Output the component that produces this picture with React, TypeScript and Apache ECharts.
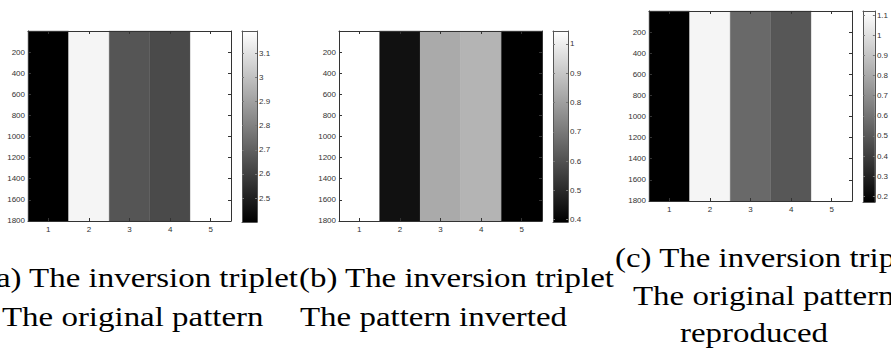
import React, { useEffect, useRef } from 'react';
import * as echarts from 'echarts';

// ---- data ----
const COLUMNS = [1, 2, 3, 4, 5];
const ROW_EXTENT = [0.5, 1800.5];
const ROW_TICKS = [200, 400, 600, 800, 1000, 1200, 1400, 1600, 1800];

const VALUES_A = [2.401, 3.16, 2.665, 2.631, 3.192];
const VALUES_B = [1.044, 0.436, 0.827, 0.852, 0.392];
const VALUES_C = [0.172, 1.083, 0.561, 0.495, 1.121];

const RANGE_A = [2.401, 3.192];
const RANGE_B = [0.392, 1.044];
const RANGE_C = [0.172, 1.121];

const CBAR_TICKS_A = [2.5, 2.6, 2.7, 2.8, 2.9, 3, 3.1];
const CBAR_TICKS_B = [0.4, 0.5, 0.6, 0.7, 0.8, 0.9, 1];
const CBAR_TICKS_C = [0.2, 0.3, 0.4, 0.5, 0.6, 0.7, 0.8, 0.9, 1, 1.1];

const CAPTION_A = ['(a) The inversion triplet', 'The original pattern'];
const CAPTION_B = ['(b) The inversion triplet', 'The pattern inverted'];
const CAPTION_C = ['(c) The inversion triplet', 'The original pattern', 'reproduced'];

// ---- layout / style ----
const PANELS = [
  { values: VALUES_A, range: RANGE_A, cticks: CBAR_TICKS_A, grid: { left: 28, top: 31, width: 203, height: 190 }, cbar: { left: 242, top: 31, width: 15, height: 191 } },
  { values: VALUES_B, range: RANGE_B, cticks: CBAR_TICKS_B, grid: { left: 339, top: 31, width: 203, height: 190 }, cbar: { left: 553, top: 31, width: 15, height: 191 } },
  { values: VALUES_C, range: RANGE_C, cticks: CBAR_TICKS_C, grid: { left: 649, top: 11, width: 203, height: 190 }, cbar: { left: 863, top: 11, width: 15, height: 191 } },
];

const AX = '#333';
const LABEL = { fontSize: 8, color: '#333', fontFamily: '"Liberation Sans", Arial, sans-serif' };
const fmt = (v: number) => String(+(+v).toFixed(3));

function gray(v: number, range: number[]) {
  const t = Math.max(0, Math.min(1, (v - range[0]) / (range[1] - range[0])));
  const g = Math.round(t * 255);
  return `rgb(${g},${g},${g})`;
}

function buildOption() {
  const grid: any[] = [];
  const xAxis: any[] = [];
  const yAxis: any[] = [];
  const series: any[] = [];

  PANELS.forEach((p, i) => {
    const gm = 2 * i;
    const gc = 2 * i + 1;
    grid.push({ ...p.grid, containLabel: false });
    grid.push({ ...p.cbar, containLabel: false });

    const line = { show: true, onZero: false, lineStyle: { color: AX, width: 1 } };
    xAxis.push({
      type: 'value', gridIndex: gm, position: 'bottom', min: 0.5, max: 5.5, z: 5,
      axisLine: line,
      axisTick: { show: true, inside: true, length: 3, customValues: COLUMNS, lineStyle: { color: AX } },
      axisLabel: { show: true, customValues: COLUMNS, margin: 4, ...LABEL, formatter: fmt },
      splitLine: { show: false },
    });
    xAxis.push({
      type: 'value', gridIndex: gm, position: 'top', min: 0.5, max: 5.5, z: 5,
      axisLine: line,
      axisTick: { show: true, inside: true, length: 3, customValues: COLUMNS, lineStyle: { color: AX } },
      axisLabel: { show: false },
      splitLine: { show: false },
    });
    xAxis.push({
      type: 'value', gridIndex: gc, position: 'bottom', min: 0, max: 1, z: 5,
      axisLine: { show: true, onZero: false, lineStyle: { color: '#555' } },
      axisTick: { show: false }, axisLabel: { show: false }, splitLine: { show: false },
    });
    xAxis.push({
      type: 'value', gridIndex: gc, position: 'top', min: 0, max: 1, z: 5,
      axisLine: { show: true, onZero: false, lineStyle: { color: '#555' } },
      axisTick: { show: false }, axisLabel: { show: false }, splitLine: { show: false },
    });

    yAxis.push({
      type: 'value', gridIndex: gm, position: 'left', inverse: true, min: ROW_EXTENT[0], max: ROW_EXTENT[1], z: 5,
      axisLine: line,
      axisTick: { show: true, inside: true, length: 3, customValues: ROW_TICKS, lineStyle: { color: AX } },
      axisLabel: { show: true, customValues: ROW_TICKS, margin: 3, ...LABEL, formatter: fmt },
      splitLine: { show: false },
    });
    yAxis.push({
      type: 'value', gridIndex: gm, position: 'right', inverse: true, min: ROW_EXTENT[0], max: ROW_EXTENT[1], z: 5,
      axisLine: line,
      axisTick: { show: true, inside: true, length: 3, customValues: ROW_TICKS, lineStyle: { color: AX } },
      axisLabel: { show: false },
      splitLine: { show: false },
    });
    yAxis.push({
      type: 'value', gridIndex: gc, position: 'left', min: p.range[0], max: p.range[1], z: 5,
      axisLine: { show: true, onZero: false, lineStyle: { color: '#555' } },
      axisTick: { show: true, inside: true, length: 2, customValues: p.cticks, lineStyle: { color: '#777' } },
      axisLabel: { show: false },
      splitLine: { show: false },
    });
    yAxis.push({
      type: 'value', gridIndex: gc, position: 'right', min: p.range[0], max: p.range[1], z: 5,
      axisLine: { show: true, onZero: false, lineStyle: { color: '#555' } },
      axisTick: { show: true, inside: true, length: 2, customValues: p.cticks, lineStyle: { color: '#777' } },
      axisLabel: { show: true, customValues: p.cticks, margin: 2, ...LABEL, formatter: fmt },
      splitLine: { show: false },
    });

    const range = p.range;
    series.push({
      type: 'custom',
      xAxisIndex: 4 * i,
      yAxisIndex: 4 * i,
      z: 1,
      data: COLUMNS.map((c, k) => [c, p.values[k]]),
      renderItem: (_params: any, api: any) => {
        const c = api.value(0);
        const v = api.value(1);
        const p1 = api.coord([c - 0.5, ROW_EXTENT[0]]);
        const p2 = api.coord([c + 0.5, ROW_EXTENT[1]]);
        const col = gray(v, range);
        return {
          type: 'rect',
          shape: {
            x: Math.min(p1[0], p2[0]),
            y: Math.min(p1[1], p2[1]),
            width: Math.abs(p2[0] - p1[0]),
            height: Math.abs(p2[1] - p1[1]),
          },
          style: { fill: col, stroke: col, lineWidth: 0.3 },
        };
      },
    });

    series.push({
      type: 'custom',
      xAxisIndex: 4 * i + 2,
      yAxisIndex: 4 * i + 3,
      z: 1,
      data: [[0.5, range[0]]],
      renderItem: (_params: any, api: any) => {
        const p1 = api.coord([0, range[0]]);
        const p2 = api.coord([1, range[1]]);
        return {
          type: 'rect',
          shape: {
            x: Math.min(p1[0], p2[0]),
            y: Math.min(p1[1], p2[1]),
            width: Math.abs(p2[0] - p1[0]),
            height: Math.abs(p2[1] - p1[1]),
          },
          style: {
            fill: {
              type: 'linear', x: 0, y: 0, x2: 0, y2: 1,
              colorStops: [
                { offset: 0, color: '#ffffff' },
                { offset: 1, color: '#000000' },
              ],
            },
          },
        };
      },
    });
  });

  const cap = (text: string, x: number, y: number, align: string) => ({
    type: 'text',
    x,
    y,
    scaleX: 1.22,
    style: {
      text,
      fontFamily: 'Liberation Serif',
      fontSize: 27,
      fontWeight: 'normal',
      fill: '#000',
      textAlign: align,
      textVerticalAlign: 'middle',
    },
  });

  const graphic = [
    cap(CAPTION_A[0], 298, 278, 'right'),
    cap(CAPTION_A[1], 2, 317, 'left'),
    cap(CAPTION_B[0], 299, 278, 'left'),
    cap(CAPTION_B[1], 300, 317, 'left'),
    cap(CAPTION_C[0], 615, 258, 'left'),
    cap(CAPTION_C[1], 633, 296, 'left'),
    cap(CAPTION_C[2], 754, 333, 'center'),
  ];

  return {
    animation: false,
    backgroundColor: '#ffffff',
    grid,
    xAxis,
    yAxis,
    series,
    graphic,
  };
}

export default function App() {
  const ref = useRef<HTMLDivElement>(null);
  useEffect(() => {
    if (!ref.current) return;
    const chart = echarts.init(ref.current, undefined, { renderer: 'svg' });
    chart.setOption(buildOption() as any);
    return () => chart.dispose();
  }, []);
  return (
    <div
      ref={ref}
      style={{ position: 'fixed', left: 0, top: 0, width: 891, height: 349, background: '#fff' }}
    />
  );
}
